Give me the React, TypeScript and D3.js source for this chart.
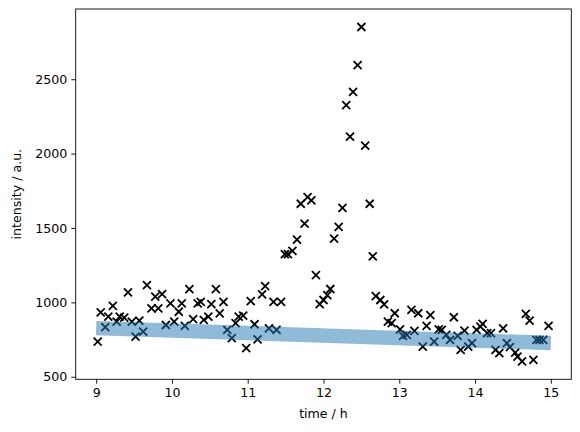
import React, { useEffect, useRef } from 'react';
import * as d3 from 'd3';

// measured signal, time in hours
const times: number[] = [
  9.02, 9.06, 9.12, 9.16, 9.22, 9.27, 9.31, 9.37, 9.42, 9.47,
  9.52, 9.57, 9.62, 9.67, 9.73, 9.78, 9.82, 9.87, 9.92, 9.98,
  10.03, 10.09, 10.13, 10.17, 10.23, 10.28, 10.34, 10.38, 10.42, 10.48,
  10.52, 10.58, 10.63, 10.68, 10.73, 10.79, 10.84, 10.88, 10.94, 10.98,
  11.04, 11.09, 11.13, 11.19, 11.23, 11.28, 11.34, 11.38, 11.44, 11.49,
  11.53, 11.59, 11.65, 11.70, 11.75, 11.79, 11.84, 11.90, 11.95, 12.00,
  12.05, 12.09, 12.14, 12.20, 12.25, 12.30, 12.35, 12.39, 12.45, 12.50,
  12.55, 12.61, 12.65, 12.69, 12.75, 12.80, 12.85, 12.90, 12.94, 13.01,
  13.05, 13.10, 13.16, 13.20, 13.25, 13.31, 13.36, 13.41, 13.46, 13.52,
  13.56, 13.62, 13.67, 13.72, 13.77, 13.81, 13.86, 13.91, 13.96, 14.02,
  14.07, 14.10, 14.16, 14.21, 14.27, 14.32, 14.37, 14.42, 14.46, 14.53,
  14.56, 14.62, 14.67, 14.72, 14.77, 14.81, 14.85, 14.90, 14.97,
];

const intensity: number[] = [
  736, 933, 833, 904, 977, 870, 904, 897, 1067, 870,
  770, 877, 803, 1116, 960, 1038, 960, 1056, 848, 994,
  870, 937, 994, 842, 1089, 888, 994, 1004, 882, 904,
  989, 1089, 926, 1004, 815, 759, 860, 904, 911, 692,
  1009, 853, 752, 1054, 1109, 826, 1004, 815, 1004, 1324,
  1324, 1346, 1422, 1663, 1529, 1707, 1685, 1183, 989, 1016,
  1049, 1090, 1429, 1507, 1636, 2326, 2114, 2415, 2594, 2851,
  2054, 1663, 1310, 1042, 1016, 987, 870, 860, 927, 819,
  775, 781, 949, 808, 927, 703, 842, 915, 736, 819,
  815, 781, 748, 900, 775, 681, 810, 703, 726, 815,
  837, 855, 793, 793, 681, 659, 826, 726, 699, 663,
  636, 603, 922, 877, 614, 748, 748, 748, 842,
];

// baseline fit
const fitTimes: number[] = [9, 15];
const fitValues: number[] = [827, 727];

const xTicks: number[] = [9, 10, 11, 12, 13, 14, 15];
const yTicks: number[] = [500, 1000, 1500, 2000, 2500];

const App: React.FC = () => {
  const svgRef = useRef<SVGSVGElement | null>(null);

  useEffect(() => {
    if (!svgRef.current) return;
    const svg = d3.select(svgRef.current);
    svg.selectAll("*").remove();

    const left = 75.7, right = 571.3, top = 9, bottom = 379.3;
    const font = "'DejaVu Sans', sans-serif";

    const x = d3.scaleLinear().domain([8.73, 15.27]).range([left, right]);
    const y = d3.scaleLinear().domain([483, 2972]).range([bottom, top]);

    // scatter of x markers
    const s = 4;
    const pts = svg.append("g");
    times.forEach((t, i) => {
      const cx = x(t), cy = y(intensity[i]);
      pts.append("path")
        .attr("d", `M${cx - s},${cy - s}L${cx + s},${cy + s}M${cx - s},${cy + s}L${cx + s},${cy - s}`)
        .attr("stroke", "#000")
        .attr("stroke-width", 1.8)
        .attr("fill", "none");
    });

    // thick semi-transparent fit line
    const line = d3.line<number>()
      .x((_, i) => x(fitTimes[i]))
      .y(d => y(d));
    svg.append("path")
      .datum(fitValues)
      .attr("d", line)
      .attr("fill", "none")
      .attr("stroke", "#1f77b4")
      .attr("stroke-opacity", 0.5)
      .attr("stroke-width", 14.5);

    // axes
    const xAxis = d3.axisBottom(x).tickValues(xTicks).tickSize(4.4).tickPadding(4).tickFormat(d3.format("d"));
    const yAxis = d3.axisLeft(y).tickValues(yTicks).tickSize(4.4).tickPadding(4).tickFormat(d3.format("d"));

    const gx = svg.append("g").attr("transform", `translate(0,${bottom})`).call(xAxis);
    const gy = svg.append("g").attr("transform", `translate(${left},0)`).call(yAxis);
    [gx, gy].forEach(g => {
      g.select(".domain").remove();
      g.selectAll("line").attr("stroke", "#000").attr("stroke-width", 0.9);
      g.selectAll("text")
        .attr("font-family", font)
        .attr("font-size", 12.6)
        .attr("fill", "#000");
    });

    // frame
    svg.append("rect")
      .attr("x", left).attr("y", top)
      .attr("width", right - left).attr("height", bottom - top)
      .attr("fill", "none")
      .attr("stroke", "#000")
      .attr("stroke-width", 0.9);

    svg.append("text")
      .attr("x", (left + right) / 2)
      .attr("y", 418)
      .attr("text-anchor", "middle")
      .attr("font-family", font)
      .attr("font-size", 12.6)
      .text("time / h");

    svg.append("text")
      .attr("transform", `translate(21,${(top + bottom) / 2}) rotate(-90)`)
      .attr("text-anchor", "middle")
      .attr("font-family", font)
      .attr("font-size", 12.6)
      .text("intensity / a.u.");
  }, []);

  return (
    <svg
      ref={svgRef}
      width={580}
      height={432}
      style={{ position: "absolute", left: 0, top: 0, background: "#fff" }}
    />
  );
};

export default App;
